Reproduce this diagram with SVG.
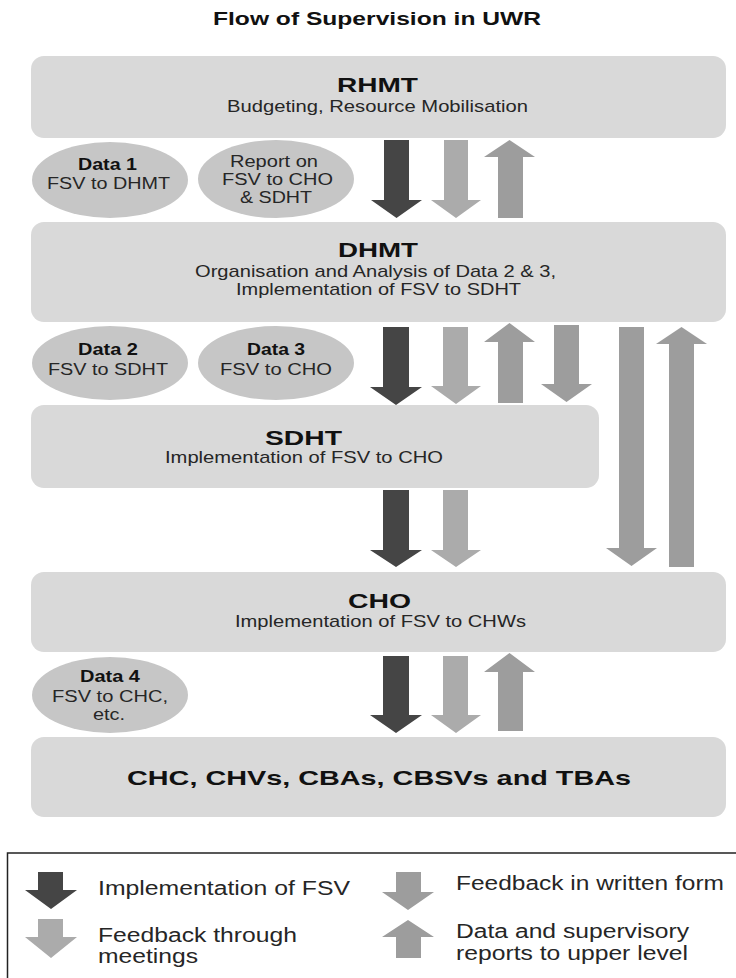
<svg xmlns="http://www.w3.org/2000/svg" width="736" height="978" viewBox="0 0 736 978">
<style>
text{font-family:"Liberation Sans",Arial,sans-serif;fill:#1e1e1e}
.ttl{font-size:18px;font-weight:bold;fill:#111}
.hd{font-size:21px;font-weight:bold;fill:#111}
.bd{font-size:17px;fill:#262626}
.el{font-size:16px;fill:#262626}
.elb{font-size:16px;font-weight:bold;fill:#111}
.lg{font-size:20px;fill:#262626}
.box{fill:#d9d9d9}
.ell{fill:#c6c6c6}
.dk{fill:#454545}
.lt{fill:#ababab}
.md{fill:#9d9d9d}
</style>
<rect width="736" height="978" fill="#ffffff"/>
<text class="ttl" x="377" y="25" text-anchor="middle" textLength="328" lengthAdjust="spacingAndGlyphs">Flow of Supervision in UWR</text>

<g id="rhmt">
<rect class="box" x="31" y="56" width="695" height="82" rx="13"/>
<text class="hd" x="377.5" y="92" text-anchor="middle" textLength="81" lengthAdjust="spacingAndGlyphs">RHMT</text>
<text class="bd" x="377.5" y="112" text-anchor="middle" textLength="301" lengthAdjust="spacingAndGlyphs">Budgeting, Resource Mobilisation</text>
</g>

<g id="dhmt">
<rect class="box" x="31" y="222" width="695" height="100" rx="13"/>
<text class="hd" x="378" y="257" text-anchor="middle" textLength="80" lengthAdjust="spacingAndGlyphs">DHMT</text>
<text class="bd" x="375.5" y="277" text-anchor="middle" textLength="361" lengthAdjust="spacingAndGlyphs">Organisation and Analysis of Data 2 &amp; 3,</text>
<text class="bd" x="378.5" y="295" text-anchor="middle" textLength="285" lengthAdjust="spacingAndGlyphs">Implementation of FSV to SDHT</text>
</g>

<g id="sdht">
<rect class="box" x="31" y="405" width="568" height="83" rx="13"/>
<text class="hd" x="303.5" y="445" text-anchor="middle" textLength="77" lengthAdjust="spacingAndGlyphs">SDHT</text>
<text class="bd" x="304" y="463" text-anchor="middle" textLength="278" lengthAdjust="spacingAndGlyphs">Implementation of FSV to CHO</text>
</g>

<g id="cho">
<rect class="box" x="31" y="572" width="695" height="80" rx="13"/>
<text class="hd" x="379.5" y="608" text-anchor="middle" textLength="63" lengthAdjust="spacingAndGlyphs">CHO</text>
<text class="bd" x="380.5" y="627" text-anchor="middle" textLength="291" lengthAdjust="spacingAndGlyphs">Implementation of FSV to CHWs</text>
</g>

<g id="community">
<rect class="box" x="31" y="737" width="695" height="80" rx="13"/>
<text class="hd" x="379" y="785" text-anchor="middle" textLength="504" lengthAdjust="spacingAndGlyphs">CHC, CHVs, CBAs, CBSVs and TBAs</text>
</g>

<g id="data1">
<ellipse class="ell" cx="110" cy="180" rx="78" ry="38"/>
<text class="elb" x="107.5" y="170" text-anchor="middle" textLength="59" lengthAdjust="spacingAndGlyphs">Data 1</text>
<text class="el" x="108.5" y="189" text-anchor="middle" textLength="123" lengthAdjust="spacingAndGlyphs">FSV to DHMT</text>
</g>

<g id="report">
<ellipse class="ell" cx="276" cy="179" rx="78" ry="39"/>
<text class="el" x="274" y="167" text-anchor="middle" textLength="88" lengthAdjust="spacingAndGlyphs">Report on</text>
<text class="el" x="277.5" y="185" text-anchor="middle" textLength="111" lengthAdjust="spacingAndGlyphs">FSV to CHO</text>
<text class="el" x="276" y="203" text-anchor="middle" textLength="72" lengthAdjust="spacingAndGlyphs">&amp; SDHT</text>
</g>

<g id="data2">
<ellipse class="ell" cx="110" cy="363" rx="78" ry="37"/>
<text class="elb" x="108" y="355" text-anchor="middle" textLength="60" lengthAdjust="spacingAndGlyphs">Data 2</text>
<text class="el" x="108" y="375" text-anchor="middle" textLength="120" lengthAdjust="spacingAndGlyphs">FSV to SDHT</text>
</g>

<g id="data3">
<ellipse class="ell" cx="276" cy="363" rx="78" ry="37"/>
<text class="elb" x="276" y="355" text-anchor="middle" textLength="58" lengthAdjust="spacingAndGlyphs">Data 3</text>
<text class="el" x="276" y="375" text-anchor="middle" textLength="112" lengthAdjust="spacingAndGlyphs">FSV to CHO</text>
</g>

<g id="data4">
<ellipse class="ell" cx="110" cy="695" rx="78" ry="38"/>
<text class="elb" x="110" y="682" text-anchor="middle" textLength="60" lengthAdjust="spacingAndGlyphs">Data 4</text>
<text class="el" x="110" y="702" text-anchor="middle" textLength="116" lengthAdjust="spacingAndGlyphs">FSV to CHC,</text>
<text class="el" x="109" y="720" text-anchor="middle" textLength="32" lengthAdjust="spacingAndGlyphs">etc.</text>
</g>

<g id="connectors">
<!-- RHMT - DHMT -->
<polygon class="dk" points="384,140 409,140 409,200 422,200 396.5,218 371,200 384,200"/>
<polygon class="lt" points="444,140 468,140 468,200 481,200 456,218 431,200 444,200"/>
<polygon class="md" points="498,218 523,218 523,157 535,157 509.5,140 484,157 498,157"/>
<!-- DHMT - SDHT -->
<polygon class="dk" points="383,327 409,327 409,387 422,387 396,405 370,387 383,387"/>
<polygon class="lt" points="443,327 468,327 468,386 481,386 456,404 431,386 443,386"/>
<polygon class="md" points="498,403 523,403 523,342 535,342 509.5,323 484,342 498,342"/>
<polygon class="md" points="554,325 579,325 579,384 592,384 566.5,402 541,384 554,384"/>
<!-- DHMT - CHO long -->
<polygon class="md" points="619,327 644,327 644,548 657,548 631.5,566 606,548 619,548"/>
<polygon class="md" points="669,567 694,567 694,344 707,344 681.5,327 656,344 669,344"/>
<!-- SDHT - CHO -->
<polygon class="dk" points="383,490 409,490 409,550 422,550 396,567 370,550 383,550"/>
<polygon class="lt" points="443,490 468,490 468,550 481,550 456,567 431,550 443,550"/>
<!-- CHO - community -->
<polygon class="dk" points="383,656 409,656 409,715 422,715 396,733 370,715 383,715"/>
<polygon class="lt" points="443,656 468,656 468,715 481,715 456,733 431,715 443,715"/>
<polygon class="md" points="498,731 523,731 523,672 535,672 509.5,653 484,672 498,672"/>
</g>

<g id="legend">
<rect x="7.5" y="853" width="740" height="140" fill="#ffffff" stroke="#222222" stroke-width="1.5"/>
<polygon class="dk" points="38,872 63,872 63,890 77,890 51,909 25,890 38,890"/>
<text class="lg" x="98" y="895" textLength="252" lengthAdjust="spacingAndGlyphs">Implementation of FSV</text>
<polygon class="lt" points="38,919 63,919 63,937 77,937 51,958 25,937 38,937"/>
<text class="lg" x="98" y="942" textLength="199" lengthAdjust="spacingAndGlyphs">Feedback through</text>
<text class="lg" x="98" y="963" textLength="100" lengthAdjust="spacingAndGlyphs">meetings</text>
<polygon class="md" points="396,872 421,872 421,892 434,892 408,910 382,892 396,892"/>
<text class="lg" x="456" y="890" textLength="268" lengthAdjust="spacingAndGlyphs">Feedback in written form</text>
<polygon class="md" points="396,958 421,958 421,937 434,937 408,920 382,937 396,937"/>
<text class="lg" x="456" y="938" textLength="233" lengthAdjust="spacingAndGlyphs">Data and supervisory</text>
<text class="lg" x="456" y="960" textLength="232" lengthAdjust="spacingAndGlyphs">reports to upper level</text>
</g>
</svg>
